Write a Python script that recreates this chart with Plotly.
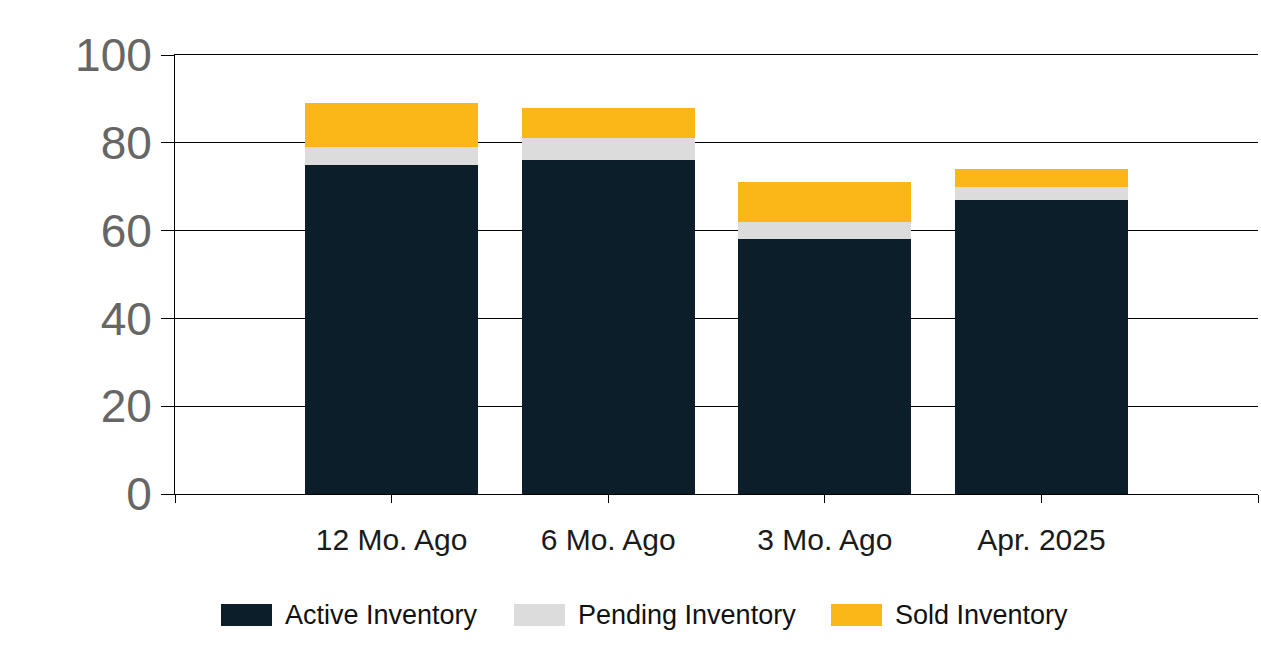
import plotly.graph_objects as go

categories = ["12 Mo. Ago", "6 Mo. Ago", "3 Mo. Ago", "Apr. 2025"]
active = [75, 76, 58, 67]
pending = [4, 5, 4, 3]
sold = [10, 7, 9, 4]
series_names = ["Active Inventory", "Pending Inventory", "Sold Inventory"]
series_colors = ["#0c1e29", "#dcdcdc", "#fbb718"]
y_ticks = [0, 20, 40, 60, 80, 100]

W, H = 1261, 663
L, R, T, B = 175, 3, 55, 169
PW, PH = W - L - R, H - T - B

fig = go.Figure()
for name, vals, col in zip(series_names, [active, pending, sold], series_colors):
    fig.add_trace(go.Bar(x=categories, y=vals, name=name, marker=dict(color=col, line=dict(width=0)),
                         showlegend=False, width=0.8))

# invisible trace on overlay axis to draw edge ticks
fig.add_trace(go.Scatter(x=[-1, 4], y=[None, None], xaxis="x2", showlegend=False, hoverinfo="skip"))

fig.update_layout(
    width=W, height=H,
    margin=dict(l=L, r=R, t=T, b=B),
    barmode="stack",
    plot_bgcolor="white", paper_bgcolor="white",
    font=dict(family="Liberation Sans, Arial, sans-serif"),
    xaxis=dict(
        type="category", range=[-1, 4], showline=True, linecolor="black", linewidth=1,
        mirror=True,
        ticks="outside", ticklen=8, tickcolor="black", tickwidth=1,
        tickfont=dict(size=30, color="#1a1a1a"), showgrid=False, ticklabelstandoff=11,
    ),
    xaxis2=dict(
        overlaying="x", range=[-1, 4], tickvals=[-1, 4], ticks="outside", ticklen=8,
        tickcolor="black", showticklabels=False, showgrid=False, zeroline=False, showline=False,
    ),
    yaxis=dict(
        range=[0, 100], tickvals=y_ticks, showgrid=True, gridcolor="black", gridwidth=1,
        showline=True, linecolor="black", linewidth=1, zeroline=False,
        ticks="outside", ticklen=13, tickcolor="black",
        tickfont=dict(size=46, color="#666666"),
    ),
)

# custom legend
def px_x(x):
    return (x - L) / PW

def px_y(y):
    return (T + PH - y) / PH

legend_swatch_x = [221, 514, 831]
for name, col, sx in zip(series_names, series_colors, legend_swatch_x):
    fig.add_shape(type="rect", xref="paper", yref="paper",
                  x0=px_x(sx), x1=px_x(sx + 51), y0=px_y(604), y1=px_y(626),
                  fillcolor=col, line=dict(width=0))
    fig.add_annotation(xref="paper", yref="paper", x=px_x(sx + 62), y=px_y(615),
                       text=name, showarrow=False, xanchor="left", yanchor="middle",
                       font=dict(size=27, color="#111111"))

fig.write_html("out.html", config={"displayModeBar": False},
               post_script="document.body.style.margin='0';document.body.style.overflow='hidden';")
